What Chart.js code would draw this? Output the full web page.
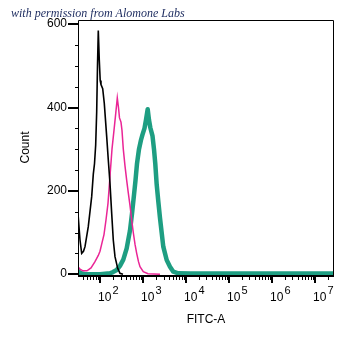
<!DOCTYPE html>
<html>
<head>
<meta charset="utf-8">
<script src="https://cdn.jsdelivr.net/npm/chart.js@4.4.1/dist/chart.umd.min.js"></script>
<style>
html,body{margin:0;padding:0;background:#ffffff;}
#wrap{width:355px;height:348px;position:relative;}
</style>
</head>
<body>
<div id="wrap"><canvas id="c" width="355" height="348"></canvas></div>
<script>
// ---- data (FITC-A intensity vs. count) ----
const blackFITC  = [30.8, 34.3, 37.5, 41.3, 44.8, 53.4, 64.1, 69.9, 74.5, 79.4, 83.8, 87.5, 91.3, 96.3, 101.1, 105.5, 115.6, 125.9, 143.2, 156.0, 170.8, 187.1, 203.8, 223.3, 258.0, 291.8, 342.7];
const blackCount = [145, 82, 50, 55, 66, 114, 186, 240, 265, 310, 390, 500, 585, 514, 465, 455, 445, 410, 330, 274, 218, 146, 82, 42, 14, 2, 0];

const pinkFITC  = [30.8, 34.3, 40.2, 49.8, 61.8, 76.5, 91.3, 100, 111.3, 123.9, 137.9, 153.5, 170.8, 190.2, 211.6, 229.3, 252.6, 269.3, 284.2, 307.9, 324.8, 348.3, 381.4, 417.8, 455.2, 498.6, 546.1, 594.8, 651.6, 713.7, 786.0, 851.7, 1016, 1307, 2486];
const pinkCount = [18, 12, 8, 8, 15, 30, 45, 55, 75, 95, 130, 170, 235, 300, 345, 380, 423, 400, 375, 365, 345, 300, 260, 225, 195, 165, 130, 100, 72, 50, 30, 18, 6, 1, 0];

const tealFITC  = [30.8, 34.3, 44.8, 100, 170.8, 200.6, 244.6, 291.8, 348.3, 417.8, 498.6, 554.9, 617.6, 669.3, 725.3, 807.4, 898.5, 973.6, 1084, 1174, 1287, 1379, 1478, 1663, 1803, 1932, 2083, 2269, 2486, 2966, 3557, 4245, 5066, 6622, 12390, 27700000];
const tealCount = [8, 3, 0, 0, 2, 5, 10, 20, 35, 62, 105, 145, 190, 225, 265, 300, 322, 335, 350, 370, 396, 370, 352, 332, 300, 265, 215, 175, 135, 66, 34, 18, 6, 2, 1.5, 1.5];

const xDecadeExponents = [2, 3, 4, 5, 6, 7];
const yMajorTicks = [0, 200, 400, 600];
const yMinorStep = 50;
const xMin = 30.8, xMax = 27700000;
const yMin = -2, yMax = 610;

const toPoints = (xs, ys) => xs.map((x, i) => ({x: x, y: ys[i]}));

const SANS = '"Liberation Sans", Arial, Helvetica, sans-serif';

const axisDecor = {
  id: 'axisDecor',
  afterDatasetsDraw(chart) {
    const {ctx, chartArea: a, scales: {x, y}} = chart;
    ctx.save();
    ctx.fillStyle = '#000';
    ctx.strokeStyle = '#000';
    // frame
    ctx.lineWidth = 1;
    ctx.beginPath();
    ctx.moveTo(a.left + 0.5, a.bottom);
    ctx.lineTo(a.left + 0.5, a.top + 0.5);
    ctx.lineTo(a.right - 0.5, a.top + 0.5);
    ctx.lineTo(a.right - 0.5, a.bottom);
    ctx.stroke();
    ctx.fillRect(a.left, a.bottom, a.right - a.left, 2);
    // y ticks
    for (let v = 0; v <= 600; v += yMinorStep) {
      const py = Math.round(y.getPixelForValue(v));
      if (yMajorTicks.includes(v)) ctx.fillRect(a.left - 10, py - 1, 10, 2);
      else ctx.fillRect(a.left - 3, py, 3, 1);
    }
    // x ticks (log)
    for (let e = 1; e <= 7; e++) {
      for (let m = 1; m <= 9; m++) {
        const v = m * Math.pow(10, e);
        if (v < x.min || v > x.max) continue;
        const px = Math.round(x.getPixelForValue(v));
        if (m === 1) ctx.fillRect(px - 1, a.bottom + 2, 2, 6);
        else ctx.fillRect(px, a.bottom + 2, 1, 3);
      }
    }
    // x tick labels 10^n
    ctx.textAlign = 'left';
    ctx.textBaseline = 'alphabetic';
    xDecadeExponents.forEach(e => {
      const px = x.getPixelForValue(Math.pow(10, e));
      ctx.font = '12px ' + SANS;
      ctx.fillText('10', px - 2, a.bottom + 26);
      ctx.font = '11px ' + SANS;
      ctx.fillText(String(e), px + 12.5, a.bottom + 18.5);
    });
    ctx.restore();
  }
};

new Chart(document.getElementById('c'), {
  type: 'line',
  data: {
    datasets: [
      {label: 'Control', data: toPoints(blackFITC, blackCount), borderColor: '#000000', borderWidth: 1.6, pointRadius: 0, fill: false, tension: 0, clip: 0, order: 0},
      {label: 'Isotype', data: toPoints(pinkFITC, pinkCount), borderColor: '#ea2596', borderWidth: 1.5, pointRadius: 0, fill: false, tension: 0, clip: 0, order: 1},
      {label: 'Stained', data: toPoints(tealFITC, tealCount), borderColor: '#1e9e82', borderWidth: 4.5, pointRadius: 0, fill: false, tension: 0, clip: 0, order: 2, borderJoinStyle: 'round', borderCapStyle: 'round'}
    ]
  },
  options: {
    responsive: false,
    animation: false,
    devicePixelRatio: 1,
    layout: {padding: {top: 2, left: 11, right: 21, bottom: 0}},
    plugins: {
      legend: {display: false},
      tooltip: {enabled: false},
      title: {
        display: true,
        text: 'with permission from Alomone Labs',
        align: 'start',
        color: '#1b2a5e',
        font: {family: '"Liberation Serif", "Times New Roman", serif', style: 'italic', weight: 'normal', size: 12, lineHeight: 1},
        padding: {top: 6, bottom: 0}
      }
    },
    scales: {
      x: {
        type: 'logarithmic',
        min: xMin,
        max: xMax,
        ticks: {display: false},
        grid: {display: false},
        border: {display: false},
        title: {display: true, text: 'FITC-A', color: '#000', font: {family: SANS, size: 12}, padding: {top: 0, bottom: 21}},
        afterFit(s) { s.height = 73; }
      },
      y: {
        type: 'linear',
        min: yMin,
        max: yMax,
        ticks: {
          stepSize: yMinorStep,
          includeBounds: false,
          autoSkip: false,
          color: '#000',
          padding: 3,
          font: {family: SANS, size: 12},
          callback: v => (yMajorTicks.includes(v) ? String(v) : '')
        },
        grid: {display: true, drawOnChartArea: false, drawTicks: true, tickLength: 8, color: 'rgba(0,0,0,0)'},
        border: {display: false},
        title: {display: true, text: 'Count', color: '#000', font: {family: SANS, size: 12}, padding: {top: 7, bottom: 0}},
        afterFit(s) { s.width = 67; }
      }
    }
  },
  plugins: [axisDecor]
});
</script>
</body>
</html>
